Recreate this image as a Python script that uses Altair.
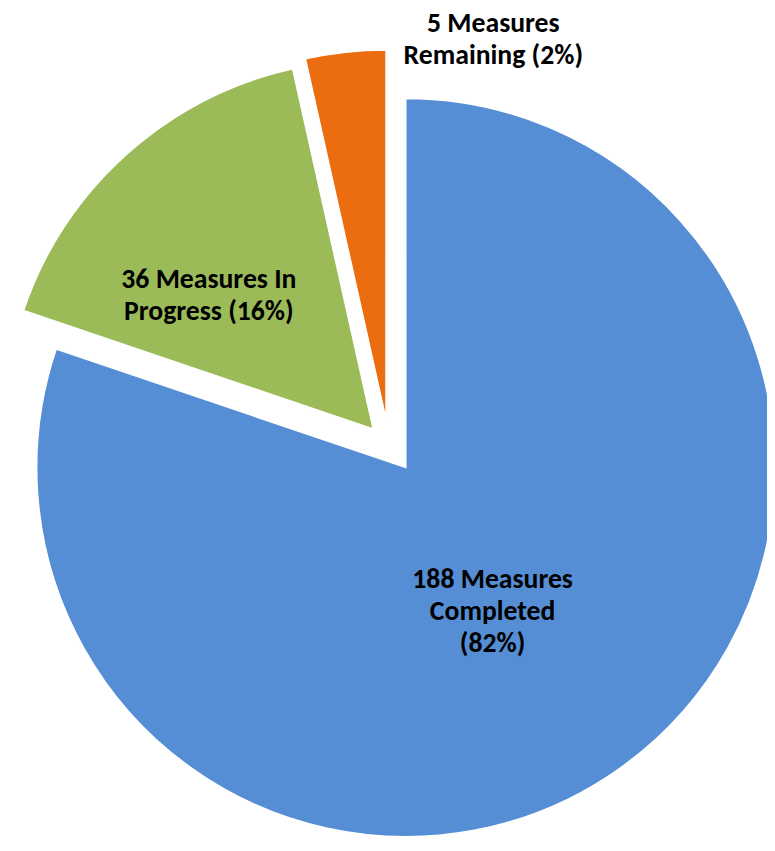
import altair as alt
import pandas as pd

# Slice data (shares as drawn in the picture, percent of the circle)
categories = ["Completed", "In Progress", "Remaining"]
shares = [80.2, 16.3, 3.5]
labels = [
    ["188 Measures", "Completed", "(82%)"],
    ["36 Measures In", "Progress (16%)"],
    ["5 Measures", "Remaining (2%)"],
]
colors = ["#558ED5", "#9BBB59", "#EC6C10"]
order = [1, 2, 3]

df = pd.DataFrame({
    "category": categories,
    "share": shares,
    "label": labels,
    "order": order,
})

# styling / layout constants
PAD_TOP = 10
CX, CY = 402, 460 - PAD_TOP   # pie centre inside the plot area
R = 373
LH = 32
explode = {"Completed": (0, 0), "In Progress": (-33, -39), "Remaining": (-20, -49)}
label_pos = {  # radius along mid-angle, plus pixel nudge
    "Completed": (166, -9, 11 - LH),
    "In Progress": (217, -21, 27 - LH / 2),
    "Remaining": (388, 151, 3 - LH / 2),
}

base = (
    alt.Chart(df)
    .transform_joinaggregate(total="sum(share)")
    .transform_window(cum="sum(share)", sort=[alt.SortField("order")])
    .transform_calculate(
        start="(datum.cum - datum.share) / datum.total * 2 * PI",
        end="datum.cum / datum.total * 2 * PI",
        mid="(datum.cum - datum.share / 2) / datum.total * 2 * PI",
    )
)

color_scale = alt.Scale(domain=categories, range=colors)

layers = []
for cat in categories:
    ox, oy = explode[cat]
    layers.append(
        base.transform_filter(alt.datum.category == cat)
        .mark_arc(outerRadius=R, x=CX + ox, y=CY + oy, stroke="white",
                  strokeWidth=1.5, clip=True)
        .encode(
            theta=alt.Theta("start:Q", scale=None),
            theta2="end:Q",
            color=alt.Color("category:N", scale=color_scale, legend=None),
        )
    )
for cat in categories:
    ox, oy = explode[cat]
    r, ddx, ddy = label_pos[cat]
    layers.append(
        base.transform_filter(alt.datum.category == cat)
        .mark_text(x=CX + ox, y=CY + oy, radius=r, dx=ddx, dy=ddy,
                   font="Carlito, Lato", fontWeight="bold", fontSize=28,
                   lineHeight=LH, color="black", align="center",
                   baseline="middle")
        .encode(
            theta=alt.Theta("mid:Q", scale=None),
            text="label",
        )
    )

chart = (
    alt.layer(*layers)
    .properties(width=767, height=825,
                padding={"top": PAD_TOP, "left": 0, "right": 0, "bottom": 0},
                autosize="none")
    .configure_view(strokeWidth=0)
)

chart.save("out.html", embed_options={"renderer": "svg", "actions": False})
